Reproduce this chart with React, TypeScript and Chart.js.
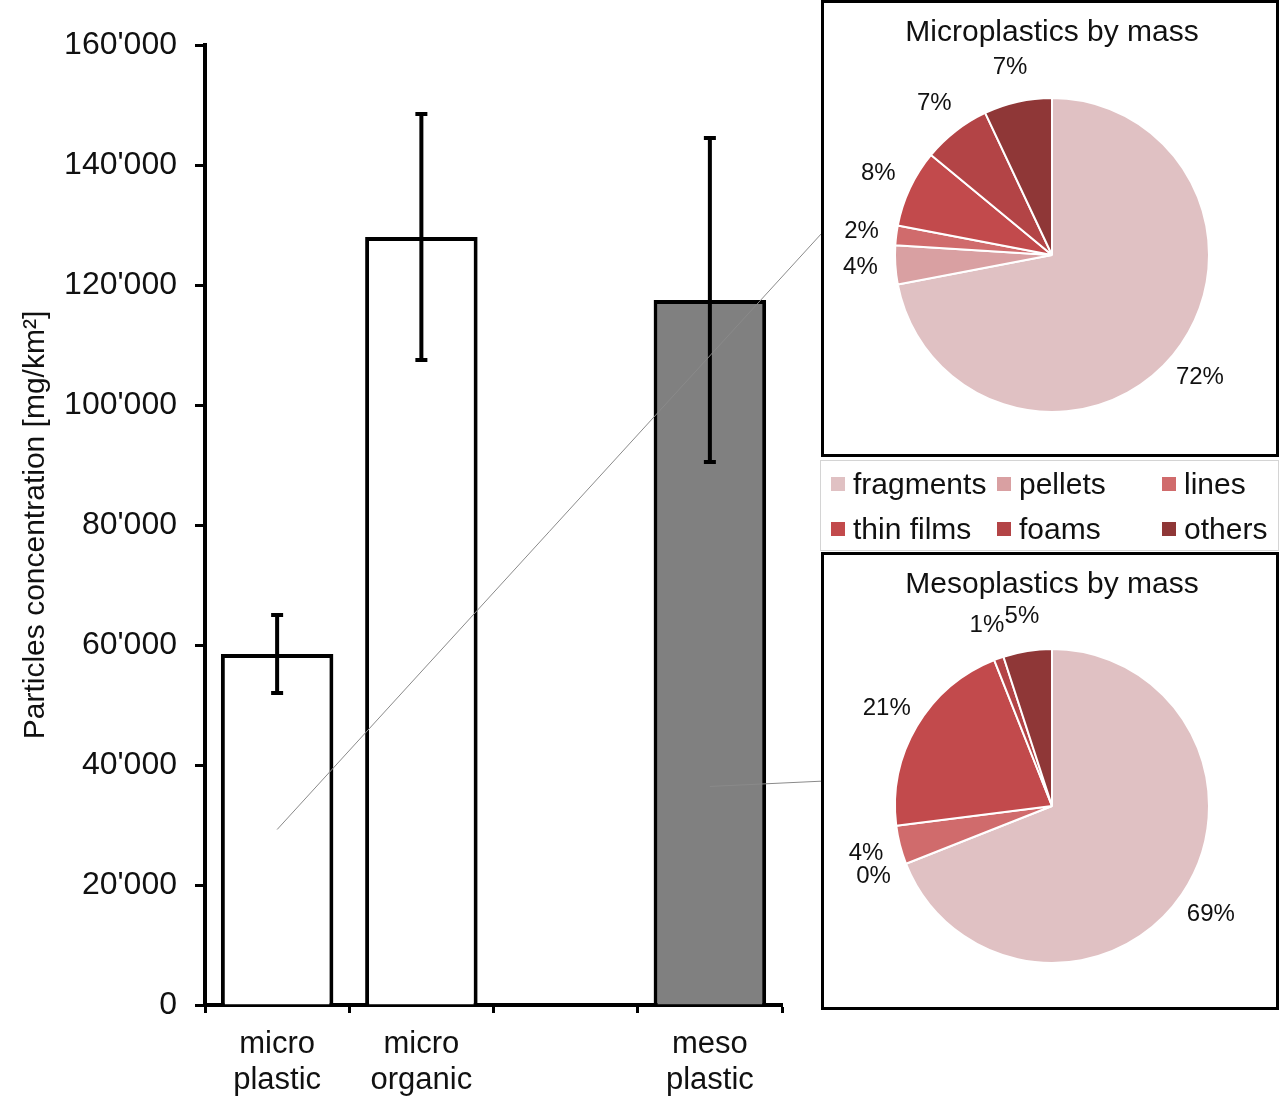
import React, { useEffect, useRef } from "react";
import { Chart, registerables } from "chart.js";

Chart.register(...registerables);

const FONT = "'Liberation Sans', Arial, Helvetica, sans-serif";
const TEXT = "#111111";

// ---- Bar chart data ----
const barCategories = [["micro", "plastic"], ["micro", "organic"], "", ["meso", "plastic"]];
const barValues = [58500, 128000, null, 117500];
const barErrors = [6500, 20500, null, 27000];
const barFills = ["#ffffff", "#ffffff", "#ffffff", "#808080"];
const yMin = 0;
const yMax = 160000;
const yStep = 20000;
const yTitle = "Particles concentration [mg/km²]";

// ---- Pie data ----
const pieCategories = ["fragments", "pellets", "lines", "thin films", "foams", "others"];
const pieColors = ["#e0c1c3", "#d9a0a2", "#d06b6c", "#c24a4c", "#b34446", "#8f3737"];
const microTitle = "Microplastics by mass";
const microShares = [72, 4, 2, 8, 7, 7];
const mesoTitle = "Mesoplastics by mass";
const mesoShares = [69, 0, 4, 21, 1, 5];

// ---- layout (not data) ----
const BOX1 = { left: 821, top: 0, width: 458, height: 457 };
const BOX2 = { left: 821, top: 552, width: 458, height: 458 };
const LEGEND = { left: 820, top: 460, width: 459, height: 91 };
const connectors = [
  { cat: 0, frac: 0.5, endX: 822, endY: 233 },
  { cat: 3, frac: 0.31, endX: 825, endY: 781 },
];

const fmt = (v: number) => String(v).replace(/\B(?=(\d{3})+(?!\d))/g, "'");

const errorBarPlugin = {
  id: "errorBars",
  afterDatasetsDraw(chart: any) {
    const { ctx } = chart;
    const x = chart.scales.x;
    const y = chart.scales.y;
    ctx.save();
    ctx.strokeStyle = "#000";
    ctx.lineWidth = 4;
    barValues.forEach((v, i) => {
      const e = barErrors[i];
      if (v == null || e == null) return;
      const px = x.getPixelForValue(i);
      const top = y.getPixelForValue(v + e);
      const bot = y.getPixelForValue(v - e);
      ctx.beginPath();
      ctx.moveTo(px, top);
      ctx.lineTo(px, bot);
      ctx.moveTo(px - 6, top);
      ctx.lineTo(px + 6, top);
      ctx.moveTo(px - 6, bot);
      ctx.lineTo(px + 6, bot);
      ctx.stroke();
    });
    ctx.restore();
  },
};

const connectorPlugin = {
  id: "connectors",
  afterDraw(chart: any) {
    const { ctx } = chart;
    const x = chart.scales.x;
    const y = chart.scales.y;
    ctx.save();
    ctx.strokeStyle = "#8a8a8a";
    ctx.lineWidth = 1;
    connectors.forEach((c) => {
      const v = barValues[c.cat] as number;
      const sx = x.getPixelForValue(c.cat);
      const sy = y.getPixelForValue(v * c.frac);
      ctx.beginPath();
      ctx.moveTo(sx, sy);
      ctx.lineTo(c.endX, c.endY);
      ctx.stroke();
    });
    ctx.restore();
  },
};

const pieLabelPlugin = {
  id: "pieLabels",
  afterDatasetsDraw(chart: any) {
    const { ctx } = chart;
    const meta = chart.getDatasetMeta(0);
    const values = chart.data.datasets[0].data;
    ctx.save();
    ctx.fillStyle = TEXT;
    ctx.font = `24px ${FONT}`;
    ctx.textAlign = "center";
    ctx.textBaseline = "middle";
    meta.data.forEach((arc: any, i: number) => {
      const p = arc.getProps(["x", "y", "startAngle", "endAngle", "outerRadius"], true);
      const mid = (p.startAngle + p.endAngle) / 2;
      const r = p.outerRadius + 35;
      ctx.fillText(`${values[i]}%`, p.x + Math.cos(mid) * r, p.y + Math.sin(mid) * r);
    });
    ctx.restore();
  },
};

function BarChart() {
  const ref = useRef<HTMLCanvasElement>(null);
  useEffect(() => {
    const chart = new Chart(ref.current as HTMLCanvasElement, {
      type: "bar",
      data: {
        labels: barCategories as any,
        datasets: [
          {
            data: barValues as any,
            backgroundColor: barFills,
            borderColor: "#000",
            borderWidth: 4,
            borderSkipped: "start",
            barPercentage: 0.78,
            categoryPercentage: 1,
          },
        ],
      },
      options: {
        responsive: false,
        animation: false,
        devicePixelRatio: 1,
        layout: { padding: { left: 14, top: 45, right: 48, bottom: 0 } },
        plugins: { legend: { display: false }, tooltip: { enabled: false } },
        scales: {
          x: {
            type: "category",
            offset: true,
            grid: {
              offset: true,
              drawOnChartArea: false,
              drawTicks: true,
              tickLength: 8,
              tickWidth: 3,
              tickColor: "#000",
            },
            border: { display: true, width: 4, color: "#000" },
            ticks: {
              color: TEXT,
              font: { family: FONT, size: 31, lineHeight: 1.17 },
              padding: 13,
              maxRotation: 0,
              autoSkip: false,
            },
            afterFit: (s: any) => {
              s.height = 94;
            },
          },
          y: {
            min: yMin,
            max: yMax,
            ticks: {
              stepSize: yStep,
              callback: (v: any) => fmt(Number(v)),
              color: TEXT,
              font: { family: FONT, size: 32 },
              padding: 18,
            },
            grid: {
              drawOnChartArea: false,
              drawTicks: true,
              tickLength: 10,
              tickWidth: 3,
              tickColor: "#000",
            },
            border: { display: true, width: 4, color: "#000" },
            title: {
              display: true,
              text: yTitle,
              color: TEXT,
              font: { family: FONT, size: 30 },
              padding: { top: 4, bottom: 0 },
            },
            afterFit: (s: any) => {
              s.width = 191;
            },
          },
        },
      } as any,
      plugins: [errorBarPlugin, connectorPlugin],
    });
    return () => chart.destroy();
  }, []);
  return (
    <canvas
      ref={ref}
      width={830}
      height={1099}
      style={{ position: "absolute", left: 0, top: 0, width: 830, height: 1099 }}
    />
  );
}

function PieBox(props: { title: string; shares: number[]; box: any; padBottom: number; titleBottom: number }) {
  const ref = useRef<HTMLCanvasElement>(null);
  const w = props.box.width - 6;
  const h = props.box.height - 6;
  useEffect(() => {
    const chart = new Chart(ref.current as HTMLCanvasElement, {
      type: "pie",
      data: {
        labels: pieCategories,
        datasets: [
          {
            data: props.shares,
            backgroundColor: pieColors,
            borderColor: "#ffffff",
            borderWidth: 2,
            radius: 157,
          } as any,
        ],
      },
      options: {
        responsive: false,
        animation: false,
        devicePixelRatio: 1,
        layout: { padding: { left: 68, right: 64, top: 0, bottom: props.padBottom } },
        plugins: {
          legend: { display: false },
          tooltip: { enabled: false },
          title: {
            display: true,
            text: props.title,
            color: TEXT,
            font: { family: FONT, size: 30, weight: "normal", lineHeight: 1.2 },
            padding: { top: 12, bottom: props.titleBottom },
          },
        },
      } as any,
      plugins: [pieLabelPlugin],
    });
    return () => chart.destroy();
  }, []);
  return (
    <div
      style={{
        position: "absolute",
        left: props.box.left,
        top: props.box.top,
        width: props.box.width,
        height: props.box.height,
        border: "3px solid #000",
        boxSizing: "border-box",
        background: "#fff",
      }}
    >
      <canvas ref={ref} width={w} height={h} style={{ display: "block", width: w, height: h }} />
    </div>
  );
}

function Legend() {
  const colLefts = [10, 176, 341];
  const rowCenters = [23, 68];
  return (
    <div
      style={{
        position: "absolute",
        left: LEGEND.left,
        top: LEGEND.top,
        width: LEGEND.width,
        height: LEGEND.height,
        border: "1px solid #d4d4d4",
        boxSizing: "border-box",
        background: "#fff",
        fontFamily: FONT,
        fontSize: 30,
        color: TEXT,
      }}
    >
      {pieCategories.map((name, i) => {
        const col = i % 3;
        const row = Math.floor(i / 3);
        return (
          <div
            key={name}
            style={{
              position: "absolute",
              left: colLefts[col],
              top: rowCenters[row] - 18,
              height: 36,
              display: "flex",
              alignItems: "center",
              whiteSpace: "nowrap",
              lineHeight: "36px",
            }}
          >
            <span style={{ display: "inline-block", width: 14, height: 14, background: pieColors[i], marginRight: 8 }} />
            <span>{name}</span>
          </div>
        );
      })}
    </div>
  );
}

export default function App() {
  return (
    <div
      style={{
        position: "absolute",
        left: 0,
        top: 0,
        width: 1281,
        height: 1099,
        background: "#fff",
        overflow: "hidden",
      }}
    >
      <BarChart />
      <PieBox title={microTitle} shares={microShares} box={BOX1} padBottom={39} titleBottom={44} />
      <Legend />
      <PieBox title={mesoTitle} shares={mesoShares} box={BOX2} padBottom={41} titleBottom={43} />
    </div>
  );
}
